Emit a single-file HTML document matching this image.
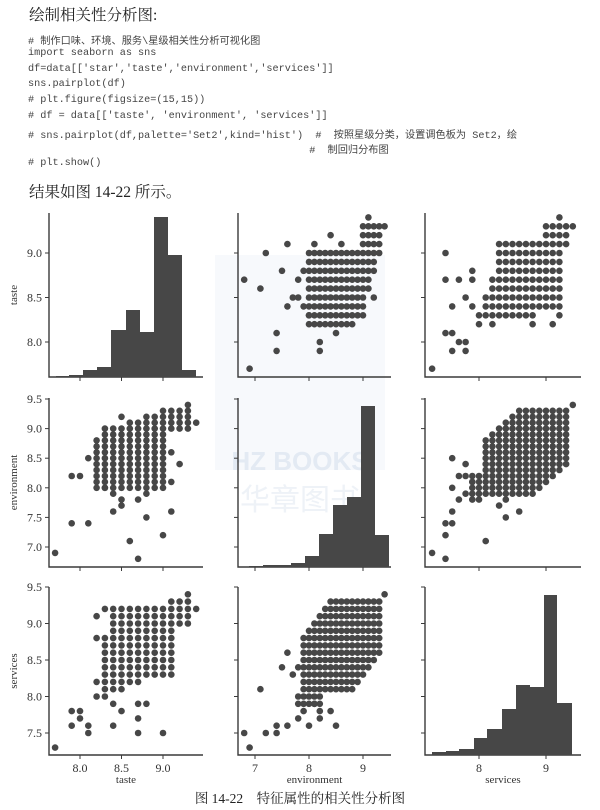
<!DOCTYPE html>
<html><head><meta charset="utf-8">
<style>
body{margin:0;background:#fff;width:600px;height:810px;overflow:hidden;position:relative;font-family:"Liberation Serif","Noto Serif CJK SC",serif;}
.t{position:absolute;left:29px;font-size:15.5px;color:#222;font-family:"Liberation Serif","Noto Serif CJK SC",serif;}
.c{position:absolute;left:28px;font-family:"Liberation Mono","Noto Sans CJK SC",monospace;font-size:10.2px;color:#444;white-space:pre;}
svg{position:absolute;left:0;top:0}
</style></head><body>
<div class="t" style="top:3px">绘制相关性分析图:</div>
<div class="c" style="top:32px"># 制作口味、环境、服务\星级相关性分析可视化图</div>
<div class="c" style="top:48px">import seaborn as sns</div>
<div class="c" style="top:64px">df=data[['star','taste','environment','services']]</div>
<div class="c" style="top:79px">sns.pairplot(df)</div>
<div class="c" style="top:95px"># plt.figure(figsize=(15,15))</div>
<div class="c" style="top:111px"># df = data[['taste', 'environment', 'services']]</div>
<div class="c" style="top:126px"># sns.pairplot(df,palette='Set2',kind='hist')  #  按照星级分类，设置调色板为 Set2，绘</div>
<div class="c" style="top:141px">                                              #  制回归分布图</div>
<div class="c" style="top:158px"># plt.show()</div>
<div class="t" style="top:180px">结果如图 14-22 所示。</div>
<svg id="s" width="600" height="810" xmlns="http://www.w3.org/2000/svg"></svg>
<script>
var S=document.getElementById('s'),o='';
o+='<rect x="215" y="255" width="170" height="215" fill="#dfe8f3" opacity="0.25"/>';
o+='<text x="300" y="470" font-size="26" font-weight="bold" text-anchor="middle" fill="#e3eaf3" font-family="Liberation Sans,sans-serif">HZ BOOKS</text>';
o+='<text x="300" y="510" font-size="30" text-anchor="middle" fill="#eef2f7" font-family="Noto Sans CJK SC,sans-serif">华章图书</text>';
var X=[function(v){return 80+(v-8)*83},function(v){return 309+(v-8)*54},function(v){return 479+(v-8)*67}];
var Y=[function(v){return 253-(v-9)*89},function(v){return 399-(v-9.5)*59.2},function(v){return 587-(v-9.5)*73}];
var colL=[49,238,425],colR=[203,391,581],rowT=[213,398,587],rowB=[377,567,755];
var C='#3a3a3a',TC='#333';
for(var r=0;r<3;r++)for(var c=0;c<3;c++){
 o+='<path d="M'+colL[c]+' '+rowT[r]+'V'+rowB[r]+'H'+colR[c]+'" fill="none" stroke="'+C+'" stroke-width="1.4"/>';
}
var yt=[[8,8.5,9],[7,7.5,8,8.5,9,9.5],[7.5,8,8.5,9,9.5]];
var ytl=[["8.0","8.5","9.0"],["7.0","7.5","8.0","8.5","9.0","9.5"],["7.5","8.0","8.5","9.0","9.5"]];
var xt=[[8,8.5,9],[7,8,9],[8,9]],xtl=[["8.0","8.5","9.0"],["7","8","9"],["8","9"]];
for(var r=0;r<3;r++)for(var c=0;c<3;c++){
 yt[r].forEach(function(v,i){var y=Y[r](v);o+='<line x1="'+(colL[c]-4)+'" x2="'+colL[c]+'" y1="'+y+'" y2="'+y+'" stroke="'+C+'"/>';
  if(c==0)o+='<text x="'+(colL[c]-7)+'" y="'+(y+4)+'" font-size="12" text-anchor="end" fill="'+TC+'">'+ytl[r][i]+'</text>';});
 xt[c].forEach(function(v,i){var x=X[c](v);o+='<line x1="'+x+'" x2="'+x+'" y1="'+rowB[r]+'" y2="'+(rowB[r]+4)+'" stroke="'+C+'"/>';
  if(r==2)o+='<text x="'+x+'" y="'+(rowB[r]+17)+'" font-size="12" text-anchor="middle" fill="'+TC+'">'+xtl[c][i]+'</text>';});
}
var names=["taste","environment","services"];
for(var i=0;i<3;i++){
 o+='<text x="'+((colL[i]+colR[i])/2)+'" y="783" font-size="11" text-anchor="middle" fill="'+TC+'">'+names[i]+'</text>';
 var cy=(rowT[i]+rowB[i])/2;
 o+='<text transform="translate(17 '+cy+') rotate(-90)" font-size="11" text-anchor="middle" fill="'+TC+'">'+names[i]+'</text>';
}
function hist(e,t,b){for(var i=0;i<t.length;i++)o+='<rect x="'+e[i]+'" y="'+t[i]+'" width="'+(e[i+1]-e[i])+'" height="'+(b-t[i])+'" fill="#474747"/>';}
hist([56,69,83,97,111,126,140,154,168,182,196],[376,375,370,367,330,310,332,217,255,370],377);
hist([249,263,277,291,305,319,333,347,361,375,389],[566,565,565,563,556,534,505,497,406,535],567);
hist([432,446,459,474,487,502,516,530,544,557,572],[752,751,749,738,729,709,685,687,595,703],755);
function R(a){return Math.round(a*10)/10}
var TE=[],TS=[],ES=[];
for(var t=7.7;t<9.45;t+=0.1)for(var e=6.8;e<9.45;e+=0.1){t=R(t);e=R(e);
 if((t>=8.3&&t<=9.0&&e>=8.0&&e<=9.1&&!(e>9.0&&t<8.6))||(t>=9.0&&t<=9.3&&e>=9.0&&e<=9.3)||(t==8.2&&e>=8.0&&e<=8.8)||(t>=8.8&&t<=9.0&&e==9.2))TE.push([t,e]);}
[[7.7,6.9],[7.9,8.2],[8.0,8.2],[7.9,7.4],[8.1,7.4],[8.1,8.5],[8.4,7.6],[8.7,6.8],[8.6,7.1],[9.0,7.2],[8.8,7.5],[9.1,7.6],[8.5,7.7],[8.5,7.8],[8.7,7.8],[9.4,9.1],[9.3,9.4],[9.2,8.4],[8.5,9.2],[8.4,7.9],[8.8,7.9],[9.1,8.1],[9.1,8.6],[8.3,8.0]].forEach(function(p){TE.push(p)});
for(var t=7.7;t<9.45;t+=0.1)for(var s=7.3;s<9.45;s+=0.1){t=R(t);s=R(s);
 if((t>=8.3&&t<=9.1&&s<=9.2&&s>=8.0+(t-8.3)*0.45&&!(t==8.3&&s>8.8))||(t>=9.1&&t<=9.3&&s>=9.0&&s<=9.3))TS.push([t,s]);}
[[7.7,7.3],[7.9,7.8],[7.9,7.6],[8.0,7.8],[8.0,7.7],[8.1,7.6],[8.1,7.5],[8.2,8.0],[8.2,8.2],[8.2,8.8],[8.2,9.1],[8.4,7.6],[8.4,7.9],[8.5,7.8],[8.7,7.5],[8.7,7.7],[9.0,7.5],[9.3,9.4],[9.4,9.2],[8.3,9.2],[8.7,7.9],[8.8,7.9],[9.0,8.3],[9.1,8.3]].forEach(function(p){TS.push(p)});
for(var e=6.8;e<9.45;e+=0.1)for(var s=7.3;s<9.45;s+=0.1){e=R(e);s=R(s);
 if((e>=7.9&&e<=9.3&&s>=8.1&&s<=9.3&&s<=e+0.95&&s>=e-0.75)||(e>=7.8&&e<=8.2&&s>=7.9&&s<=8.0))ES.push([e,s]);}
[[6.8,7.5],[6.9,7.3],[7.1,8.1],[7.2,7.5],[7.4,7.5],[7.4,7.6],[7.5,8.4],[7.6,8.6],[7.7,8.3],[7.8,8.4],[7.6,7.6],[7.8,7.7],[8.0,7.6],[8.2,7.7],[8.2,7.8],[8.4,7.8],[8.5,7.6],[9.4,9.4],[7.9,7.8],[8.1,7.9]].forEach(function(p){ES.push(p)});
function sc(P,cx,ry,sw){P.forEach(function(p){var a=sw?p[1]:p[0],b=sw?p[0]:p[1];
 o+='<circle cx="'+X[cx](a).toFixed(1)+'" cy="'+Y[ry](b).toFixed(1)+'" r="3.3" fill="#474747"/>';});}
sc(TE,0,1,false);sc(TE,1,0,true);
sc(TS,0,2,false);sc(TS,2,0,true);
sc(ES,1,2,false);sc(ES,2,1,true);
o+='<text x="300" y="803" font-size="13.5" text-anchor="middle" fill="#222" font-family="Liberation Serif,Noto Serif CJK SC,serif">图 14-22　特征属性的相关性分析图</text>';
S.innerHTML=o;
</script>
</body></html>
